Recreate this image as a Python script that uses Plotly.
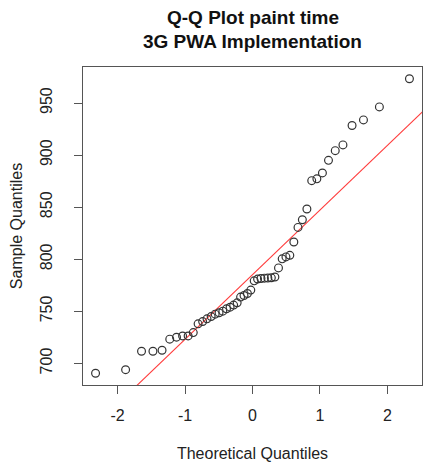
import numpy as np
import plotly.graph_objects as go
from statistics import NormalDist

# Sorted sample values (paint time)
sample = [690.6, 694.0, 711.7, 711.7, 712.7, 723.3, 725.2, 726.4, 726.4, 729.6,
          738.0, 740.2, 742.8, 745.0, 747.3, 748.6, 750.2, 752.4, 754.0, 756.0,
          758.2, 763.7, 765.2, 767.1, 770.4, 779.3, 781.0, 781.5, 781.9, 782.0,
          782.2, 783.0, 791.7, 800.4, 802.3, 803.8, 816.6, 830.6, 838.0, 848.3,
          875.5, 877.2, 882.9, 895.0, 904.3, 909.8, 928.4, 933.8, 946.3, 973.3]
x_ticks = [-2, -1, 0, 1, 2]
y_ticks = [700, 750, 800, 850, 900, 950]
title_lines = ["Q-Q Plot paint time", "3G PWA Implementation"]

n = len(sample)
nd = NormalDist()
a = 3 / 8 if n <= 10 else 0.5
theo = [nd.inv_cdf((i + 1 - a) / (n + 1 - 2 * a)) for i in range(n)]

ys = np.sort(np.array(sample))
q1, q3 = np.quantile(ys, [0.25, 0.75])
t1, t3 = nd.inv_cdf(0.25), nd.inv_cdf(0.75)
slope = (q3 - q1) / (t3 - t1)
inter = q1 - slope * t1

def rrange(v):
    lo, hi = min(v), max(v)
    d = (hi - lo) * 0.04
    return [lo - d, hi + d]

xr = rrange(theo)
yr = rrange(sample)

fig = go.Figure()
lx = [xr[0] - 1, xr[1] + 1]
fig.add_trace(go.Scatter(x=lx, y=[inter + slope * v for v in lx], mode="lines",
                         line=dict(color="#ff3b3b", width=1.1), hoverinfo="skip",
                         showlegend=False))
fig.add_trace(go.Scatter(x=theo, y=list(ys), mode="markers",
                         marker=dict(symbol="circle-open", size=7.8,
                                     color="#333333", line=dict(width=1.2, color="#333333")),
                         showlegend=False))

font = "Liberation Sans, Arial, Helvetica, sans-serif"
axis_common = dict(showgrid=False, zeroline=False, showline=True, mirror=True,
                   linecolor="#555555", linewidth=1, ticks="outside", ticklen=8,
                   tickcolor="#555555", tickwidth=1,
                   tickfont=dict(family=font, size=16, color="#222222"))

fig.update_layout(
    width=423, height=468,
    margin=dict(l=83, r=1, t=67, b=83),
    paper_bgcolor="white", plot_bgcolor="white",
    font=dict(family=font, size=16, color="#222222"),
    xaxis=dict(range=xr, tickvals=x_ticks, ticktext=[str(v) for v in x_ticks],
               ticklabelstandoff=8,
               title=dict(text="Theoretical Quantiles", standoff=24,
                          font=dict(family=font, size=16, color="#222222")),
               **axis_common),
    yaxis=dict(range=yr, tickvals=y_ticks, ticktext=[str(v) for v in y_ticks],
               tickangle=-90, ticklabelstandoff=16,
               title=dict(text="Sample Quantiles", standoff=10,
                          font=dict(family=font, size=16, color="#222222")),
               **axis_common),
    annotations=[
        dict(text="<b>%s</b>" % title_lines[0], xref="paper", yref="paper",
             x=0.5, y=1 + (67 - 18) / 318, showarrow=False, yanchor="middle",
             font=dict(family=font, size=19, color="#111111")),
        dict(text="<b>%s</b>" % title_lines[1], xref="paper", yref="paper",
             x=0.5, y=1 + (67 - 42) / 318, showarrow=False, yanchor="middle",
             font=dict(family=font, size=19, color="#111111")),
    ],
)

fig.write_html("out.html")
